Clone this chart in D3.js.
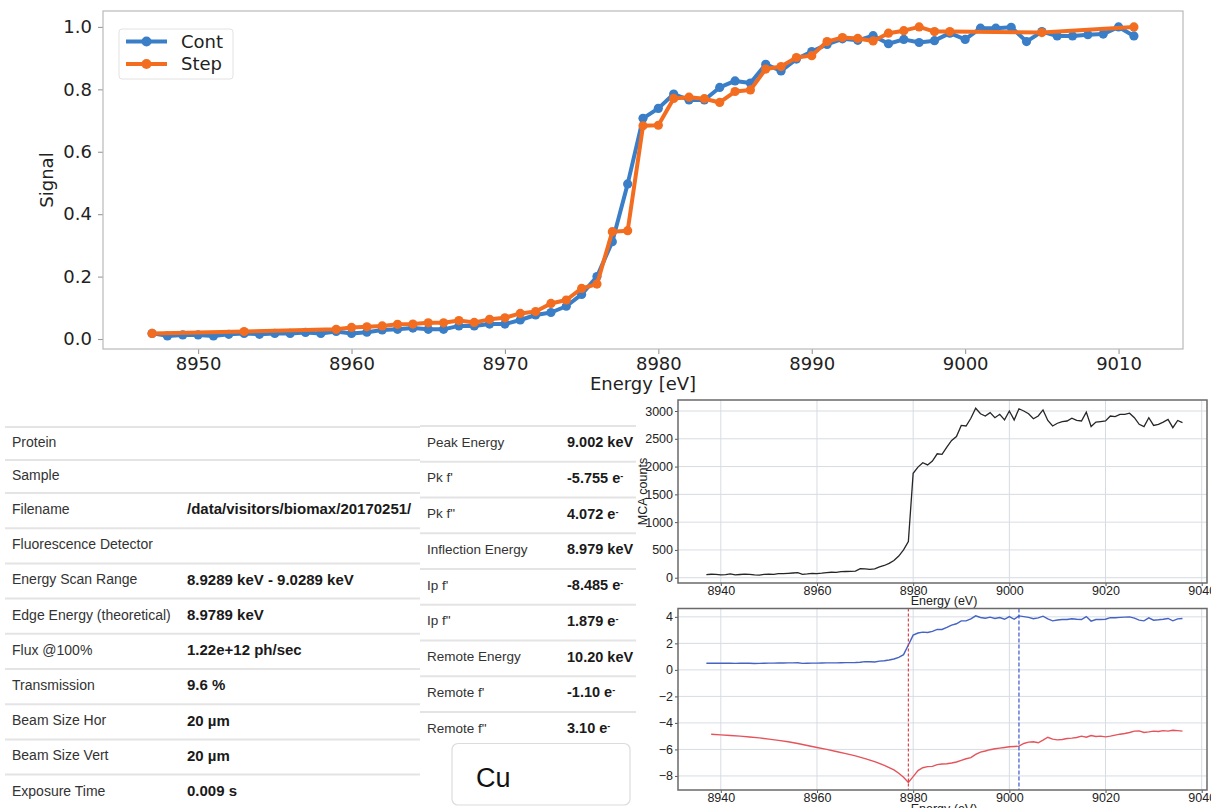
<!DOCTYPE html>
<html>
<head>
<meta charset="utf-8">
<script src="https://cdn.jsdelivr.net/npm/d3@7"></script>
<style>
  html, body { margin: 0; padding: 0; background: #fff; }
  svg { display: block; }
</style>
</head>
<body>
<svg id="chart" width="1211" height="808"></svg>
<script>
// ---------- Normalised edge scan: continuous vs. step mode ----------
const contEnergy = [8947,8948,8949,8950,8951,8952,8953,8954,8955,8956,8957,8958,8959,8960,8961,8962,8963,8964,8965,8966,
  8967,8968,8969,8970,8971,8972,8973,8974,8975,8976,8977,8978,8979,8980,8981,8982,8983,8984,8985,8986,
  8987,8988,8989,8990,8991,8992,8993,8994,8995,8996,8997,8998,8999,9000,9001,9002,9003,9004,9005,9006,
  9007,9008,9009,9010,9011];
const contSignal = [0.018,0.010,0.013,0.013,0.010,0.015,0.018,0.015,0.018,0.018,0.021,0.018,0.024,0.018,0.022,0.029,0.031,0.035,0.031,0.031,
  0.042,0.042,0.048,0.048,0.061,0.077,0.085,0.105,0.143,0.200,0.312,0.497,0.707,0.739,0.785,0.766,0.766,0.806,0.827,0.820,
  0.880,0.859,0.897,0.921,0.944,0.962,0.957,0.972,0.946,0.960,0.950,0.956,0.980,0.960,0.996,0.996,0.999,0.953,0.985,0.971,
  0.971,0.975,0.977,1.000,0.971];

const stepEnergy = [8947,8953,8959,8960,8961,8962,8963,8964,8965,8966,8967,8968,8969,8970,8971,8972,8973,8974,8975,8976,
  8977,8978,8979,8980,8981,8982,8983,8984,8985,8986,8987,8988,8989,8990,8991,8992,8993,8994,8995,8996,
  8997,8998,8999,9005,9011];
const stepSignal = [0.018,0.024,0.031,0.037,0.039,0.042,0.047,0.048,0.052,0.052,0.059,0.053,0.063,0.068,0.082,0.088,0.114,0.125,0.162,0.176,
  0.344,0.347,0.683,0.685,0.771,0.775,0.770,0.758,0.793,0.798,0.865,0.873,0.902,0.908,0.953,0.966,0.963,0.955,0.980,0.988,
  1.000,0.985,0.985,0.982,1.000];

const scanTicksX = [8950,8960,8970,8980,8990,9000,9010];
const scanTicksY = [0.0,0.2,0.4,0.6,0.8,1.0];
const seriesNames = ['Cont','Step'];

// ---------- Fluorescence counts ----------
const mcaEnergy = [8937,8938,8939,8940,8941,8942,8943,8944,8945,8946,8947,8948,8949,8950,8951,8952,8953,8954,8955,8956,
  8957,8958,8959,8960,8961,8962,8963,8964,8965,8966,8967,8968,8969,8970,8971,8972,8973,8974,8975,8976,
  8977,8978,8979,8980,8981,8982,8983,8984,8985,8986,8987,8988,8989,8990,8991,8992,8993,8994,8995,8996,
  8997,8998,8999,9000,9001,9002,9003,9004,9005,9006,9007,9008,9009,9010,9011,9012,9013,9014,9015,9016,
  9017,9018,9019,9020,9021,9022,9023,9024,9025,9026,9027,9028,9029,9030,9031,9032,9033,9034,9035,9036];
const mcaCounts = [55,62,60,52,55,68,50,58,65,62,50,48,60,65,62,72,75,80,85,90,
  62,68,78,75,82,92,98,95,110,112,115,120,165,160,150,160,195,220,258,310,
  390,500,650,1880,1990,2070,2030,2100,2230,2220,2350,2470,2540,2740,2730,2870,3050,2950,2910,2970,
  2880,2940,2840,3000,2840,3040,3000,2950,2860,2910,3020,2830,2730,2780,2810,2820,2870,2830,2820,2980,
  2720,2800,2810,2820,2910,2900,2940,2940,2960,2880,2760,2720,2880,2740,2760,2800,2850,2700,2830,2790];
const mcaTicksX = [8940,8960,8980,9000,9020,9040];
const mcaTicksY = [0,500,1000,1500,2000,2500,3000];

// ---------- Anomalous scattering factors ----------
const fppEnergy = mcaEnergy;
const fppValue = [0.50,0.50,0.51,0.50,0.50,0.50,0.49,0.50,0.50,0.50,0.48,0.49,0.50,0.51,0.51,0.52,0.52,0.53,0.53,0.54,
  0.49,0.50,0.51,0.51,0.52,0.53,0.53,0.53,0.54,0.55,0.55,0.56,0.58,0.62,0.61,0.60,0.66,0.69,0.75,0.82,
  0.95,1.15,1.879,2.62,2.78,2.85,2.82,2.90,3.05,3.05,3.20,3.38,3.48,3.70,3.70,3.85,4.08,3.95,3.90,3.98,
  3.88,3.95,3.82,4.02,3.82,4.072,4.02,3.96,3.86,3.92,4.05,3.85,3.70,3.76,3.80,3.80,3.86,3.82,3.80,4.02,
  3.68,3.80,3.80,3.82,3.94,3.93,3.96,3.98,4.00,3.90,3.75,3.70,3.92,3.75,3.78,3.82,3.88,3.70,3.85,3.88];
const fpEnergy = [8938,8940,8942,8944,8946,8948,8950,8952,8954,8956,8958,8960,8962,8964,8966,8968,8970,8972,8974,8976,
  8977,8978,8979,8980,8981,8982,8983,8984,8985,8986,8987,8988,8989,8990,8991,8992,8993,8994,8995,8996,
  8997,8998,8999,9000,9001,9002,9003,9004,9005,9006,9007,9008,9009,9010,9011,9012,9013,9014,9015,9016,
  9017,9018,9019,9020,9021,9022,9023,9024,9025,9026,9027,9028,9029,9030,9031,9032,9033,9034,9035,9036];
const fpValue = [-4.85,-4.90,-4.95,-5.00,-5.06,-5.13,-5.22,-5.32,-5.42,-5.55,-5.70,-5.85,-6.00,-6.16,-6.32,-6.49,-6.69,-6.92,-7.20,-7.55,
  -7.80,-8.10,-8.485,-8.05,-7.60,-7.38,-7.30,-7.28,-7.15,-7.10,-7.08,-7.02,-6.95,-6.82,-6.70,-6.62,-6.38,-6.20,-6.12,-6.02,
  -5.95,-5.90,-5.85,-5.80,-5.78,-5.755,-5.55,-5.45,-5.42,-5.50,-5.30,-5.08,-5.22,-5.28,-5.25,-5.18,-5.15,-5.10,-5.00,-5.08,
  -4.95,-5.02,-5.00,-5.05,-5.00,-4.92,-4.85,-4.80,-4.72,-4.62,-4.60,-4.72,-4.68,-4.62,-4.65,-4.58,-4.62,-4.55,-4.58,-4.62];
const factorTicksY = [-8,-6,-4,-2,0,2,4];
const inflectionEnergy = 8979;
const peakEnergy = 9002;

// ---------- Scan parameter tables ----------
const infoLabels = ['Protein','Sample','Filename','Fluorescence Detector','Energy Scan Range',
  'Edge Energy (theoretical)','Flux @100%','Transmission','Beam Size Hor','Beam Size Vert','Exposure Time'];
const infoValues = ['','','/data/visitors/biomax/20170251/','','8.9289 keV - 9.0289 keV',
  '8.9789 keV','1.22e+12 ph/sec','9.6 %','20 µm','20 µm','0.009 s'];
const resultLabels = ['Peak Energy',"Pk f'",'Pk f"','Inflection Energy',"Ip f'",'Ip f"','Remote Energy',"Remote f'",'Remote f"'];
const resultValues = ['9.002 keV','-5.755 e','4.072 e','8.979 keV','-8.485 e','1.879 e','10.20 keV','-1.10 e','3.10 e'];
const resultElectron = [false,true,true,false,true,true,false,true,true];
const elementName = 'Cu';

// =====================================================================
const svg = d3.select('#chart');
svg.append('rect').attr('width', 1211).attr('height', 808).attr('fill', '#fff');

// ---------------- Top: normalised signal ----------------
const P = {l: 103, r: 1183, t: 11, b: 349};
const x1 = d3.scaleLinear().domain([8943.8, 9014.2]).range([P.l, P.r]);
const y1 = d3.scaleLinear().domain([-0.032, 1.051]).range([P.b, P.t]);
const mplFont = 'DejaVu Sans, sans-serif';
const colCont = '#3a7ec8', colStep = '#f36d21';

const gTop = svg.append('g');

const ax1 = gTop.append('g').attr('transform', `translate(0,${P.b})`)
  .call(d3.axisBottom(x1).tickValues(scanTicksX).tickSize(5).tickPadding(3).tickFormat(d3.format('d')));
const ay1 = gTop.append('g').attr('transform', `translate(${P.l},0)`)
  .call(d3.axisLeft(y1).tickValues(scanTicksY).tickSize(5).tickPadding(6).tickFormat(d3.format('.1f')));
[ax1, ay1].forEach(a => {
  a.select('.domain').remove();
  a.selectAll('line').attr('stroke', '#9a9a9a').attr('stroke-width', 1.1);
  a.selectAll('text').attr('font-family', mplFont).attr('font-size', 18).attr('fill', '#222');
});

gTop.append('rect').attr('x', P.l).attr('y', P.t).attr('width', P.r - P.l).attr('height', P.b - P.t)
  .attr('fill', 'none').attr('stroke', '#b9b9b9').attr('stroke-width', 1.2);

gTop.append('text').attr('x', (P.l + P.r) / 2).attr('y', 390).attr('text-anchor', 'middle')
  .attr('font-family', mplFont).attr('font-size', 18).attr('fill', '#222').text('Energy [eV]');
gTop.append('text').attr('transform', `translate(53,${(P.t + P.b) / 2}) rotate(-90)`).attr('text-anchor', 'middle')
  .attr('font-family', mplFont).attr('font-size', 18).attr('fill', '#222').text('Signal');

function drawSeries(g, xs, ys, color) {
  const pts = xs.map((e, i) => [e, ys[i]]);
  g.append('path').datum(pts)
    .attr('d', d3.line().x(d => x1(d[0])).y(d => y1(d[1])))
    .attr('fill', 'none').attr('stroke', color).attr('stroke-width', 4)
    .attr('stroke-linejoin', 'round').attr('stroke-linecap', 'round');
  g.selectAll(null).data(pts).enter().append('circle')
    .attr('cx', d => x1(d[0])).attr('cy', d => y1(d[1])).attr('r', 4.6).attr('fill', color);
}
drawSeries(gTop, contEnergy, contSignal, colCont);
drawSeries(gTop, stepEnergy, stepSignal, colStep);

// legend
const lg = gTop.append('g');
lg.append('rect').attr('x', 119).attr('y', 29).attr('width', 114).attr('height', 50).attr('rx', 3)
  .attr('fill', '#fff').attr('fill-opacity', 0.85).attr('stroke', '#e2e2e2');
[colCont, colStep].forEach((c, i) => {
  const yy = 41.5 + i * 22.5;
  lg.append('line').attr('x1', 126).attr('x2', 167).attr('y1', yy).attr('y2', yy)
    .attr('stroke', c).attr('stroke-width', 4);
  lg.append('circle').attr('cx', 146.5).attr('cy', yy).attr('r', 5).attr('fill', c);
  lg.append('text').attr('x', 181).attr('y', yy).attr('dy', '0.35em')
    .attr('font-family', mplFont).attr('font-size', 18).attr('fill', '#222').text(seriesNames[i]);
});

// ---------------- Bottom-left: scan parameter table ----------------
const tblFont = 'Liberation Sans, Arial, sans-serif';
const gInfo = svg.append('g');
const infoTop = i => (i < 2 ? 427 + 33 * i : 493 + 35.2 * (i - 2));
const infoH = i => (i < 2 ? 33 : 35.2);
svg.append('clipPath').attr('id', 'infoClip').append('rect')
  .attr('x', 0).attr('y', 400).attr('width', 419).attr('height', 408);

infoLabels.forEach((lab, i) => {
  const top = infoTop(i);
  gInfo.append('line').attr('x1', 5).attr('x2', 420).attr('y1', top).attr('y2', top)
    .attr('stroke', '#e4e4e4').attr('stroke-width', 2);
  const cy = top + infoH(i) / 2 - 1.5;
  gInfo.append('text').attr('x', 12).attr('y', cy).attr('dy', '0.35em')
    .attr('font-family', tblFont).attr('font-size', 14).attr('fill', '#333').text(lab);
  if (infoValues[i]) {
    gInfo.append('text').attr('x', 187).attr('y', cy).attr('dy', '0.35em')
      .attr('clip-path', 'url(#infoClip)')
      .attr('font-family', tblFont).attr('font-size', 15).attr('font-weight', 'bold').attr('fill', '#1a1a1a')
      .text(infoValues[i]);
  }
});

// ---------------- Bottom-middle: derived results ----------------
const gRes = svg.append('g');
resultLabels.forEach((lab, i) => {
  const top = 426 + 35.75 * i;
  gRes.append('line').attr('x1', 420).attr('x2', 636).attr('y1', top).attr('y2', top)
    .attr('stroke', '#e4e4e4').attr('stroke-width', 2);
  const cy = top + 16;
  gRes.append('text').attr('x', 427).attr('y', cy).attr('dy', '0.35em')
    .attr('font-family', tblFont).attr('font-size', 13.5).attr('fill', '#333').text(lab);
  const t = gRes.append('text').attr('x', 567).attr('y', cy).attr('dy', '0.35em')
    .attr('font-family', tblFont).attr('font-size', 14.5).attr('font-weight', 'bold').attr('fill', '#1a1a1a')
    .text(resultValues[i]);
  if (resultElectron[i]) {
    t.append('tspan').attr('dy', '-0.45em').attr('font-size', 9).text('-');
  }
});
gRes.append('rect').attr('x', 452).attr('y', 743.5).attr('width', 178).attr('height', 61.5).attr('rx', 6)
  .attr('fill', '#fff').attr('stroke', '#dcdcdc').attr('stroke-width', 1.2);
gRes.append('text').attr('x', 476).attr('y', 787).attr('font-family', tblFont)
  .attr('font-size', 27).attr('fill', '#111').text(elementName);

// ---------------- Right: MCA counts and f', f'' ----------------
const smallFont = 'Liberation Sans, Arial, sans-serif';
const F = {l: 678, r: 1207};
const x2 = d3.scaleLinear().domain([8931.1, 9041.1]).range([F.l, F.r]);

function panel(top, bottom, yScale, yTicks) {
  const g = svg.append('g');
  g.append('rect').attr('x', F.l).attr('y', top).attr('width', F.r - F.l).attr('height', bottom - top).attr('fill', '#fff');
  g.selectAll(null).data(mcaTicksX.filter(v => x2(v) < F.r - 1)).enter().append('line')
    .attr('x1', d => x2(d)).attr('x2', d => x2(d)).attr('y1', top).attr('y2', bottom)
    .attr('stroke', '#d7dce3').attr('stroke-width', 1);
  g.selectAll(null).data(yTicks).enter().append('line')
    .attr('x1', F.l).attr('x2', F.r).attr('y1', d => yScale(d)).attr('y2', d => yScale(d))
    .attr('stroke', '#d7dce3').attr('stroke-width', 1);
  const ax = g.append('g').attr('transform', `translate(0,${bottom})`)
    .call(d3.axisBottom(x2).tickValues(mcaTicksX).tickSize(3).tickPadding(0).tickFormat(d3.format('d')));
  const ay = g.append('g').attr('transform', `translate(${F.l},0)`)
    .call(d3.axisLeft(yScale).tickValues(yTicks).tickSize(3).tickPadding(2).tickFormat(d3.format('d')));
  [ax, ay].forEach(a => {
    a.select('.domain').remove();
    a.selectAll('line').attr('stroke', '#555');
    a.selectAll('text').attr('font-family', smallFont).attr('font-size', 12.5).attr('fill', '#222');
  });
  return g;
}

// MCA panel
const M = {t: 400, b: 583};
const yM = d3.scaleLinear().domain([-95, 3198]).range([M.b, M.t]);
const gM = panel(M.t, M.b, yM, mcaTicksY);
gM.append('path').datum(mcaEnergy.map((e, i) => [e, mcaCounts[i]]))
  .attr('d', d3.line().x(d => x2(d[0])).y(d => yM(d[1])))
  .attr('fill', 'none').attr('stroke', '#262626').attr('stroke-width', 1.3);
gM.append('rect').attr('x', F.l).attr('y', M.t).attr('width', F.r - F.l).attr('height', M.b - M.t)
  .attr('fill', 'none').attr('stroke', '#6a6a6a').attr('stroke-width', 1.5);
gM.append('text').attr('x', 944).attr('y', 604.5).attr('text-anchor', 'middle')
  .attr('font-family', smallFont).attr('font-size', 12.5).attr('fill', '#222').text('Energy (eV)');
gM.append('text').attr('transform', `translate(647,${(M.t + M.b) / 2}) rotate(-90)`).attr('text-anchor', 'middle')
  .attr('font-family', smallFont).attr('font-size', 12.5).attr('fill', '#222').text('MCA counts');

// f', f'' panel
const Q = {t: 608.5, b: 790};
const yQ = d3.scaleLinear().domain([-9.06, 4.63]).range([Q.b, Q.t]);
const gQ = panel(Q.t, Q.b, yQ, factorTicksY);
gQ.append('path').datum(fppEnergy.map((e, i) => [e, fppValue[i]]))
  .attr('d', d3.line().x(d => x2(d[0])).y(d => yQ(d[1])))
  .attr('fill', 'none').attr('stroke', '#4463c4').attr('stroke-width', 1.4);
gQ.append('path').datum(fpEnergy.map((e, i) => [e, fpValue[i]]))
  .attr('d', d3.line().x(d => x2(d[0])).y(d => yQ(d[1])))
  .attr('fill', 'none').attr('stroke', '#e5535b').attr('stroke-width', 1.4);
gQ.append('line').attr('x1', x2(inflectionEnergy)).attr('x2', x2(inflectionEnergy)).attr('y1', Q.t).attr('y2', Q.b)
  .attr('stroke', '#e3303c').attr('stroke-width', 1.1).attr('stroke-dasharray', '3,2');
gQ.append('line').attr('x1', x2(peakEnergy)).attr('x2', x2(peakEnergy)).attr('y1', Q.t).attr('y2', Q.b)
  .attr('stroke', '#2a48c2').attr('stroke-width', 1.1).attr('stroke-dasharray', '4,2');
gQ.append('rect').attr('x', F.l).attr('y', Q.t).attr('width', F.r - F.l).attr('height', Q.b - Q.t)
  .attr('fill', 'none').attr('stroke', '#6a6a6a').attr('stroke-width', 1.5);
gQ.append('text').attr('x', 944).attr('y', 813).attr('text-anchor', 'middle')
  .attr('font-family', smallFont).attr('font-size', 12.5).attr('fill', '#222').text('Energy (eV)');
</script>
</body>
</html>
